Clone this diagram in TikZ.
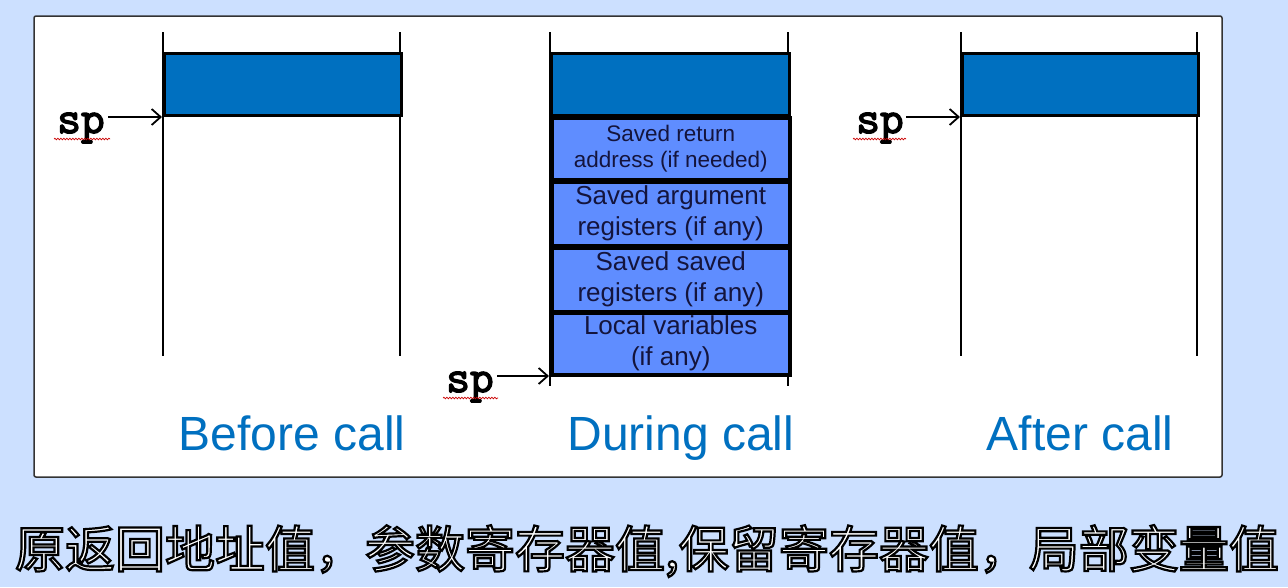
\documentclass[tikz,border=0pt]{standalone}
\usepackage{fontspec}
\setmainfont{Liberation Sans}
\newfontfamily\cjkfnt{Noto Sans CJK SC}
\usetikzlibrary{arrows.meta,decorations.pathmorphing}
\definecolor{bgblue}{RGB}{204,224,255}
\definecolor{darkblue}{RGB}{0,112,192}
\definecolor{lightblue}{RGB}{95,141,255}
\definecolor{navytext}{RGB}{20,20,60}
\definecolor{labelblue}{RGB}{0,112,192}
\newcommand{\outlinetext}[1]{\special{pdf:literal direct 0 0 0 RG 2 Tr 2.2 w}#1\special{pdf:literal direct 0 Tr}}
\newcommand{\heavytext}[1]{\special{pdf:literal direct 0 0 0 RG 2 Tr 1.4 w}#1\special{pdf:literal direct 0 Tr}}
\tikzset{
  stackline/.style={line width=2pt,black},
  topbox/.style={draw=black,line width=2.5pt,fill=darkblue,minimum height=62pt,inner sep=0pt,anchor=north west},
  framebox/.style={draw=black,line width=3.5pt,fill=lightblue,minimum height=62pt,inner sep=0pt,anchor=north west,align=center,text=navytext,font=\fontsize{26}{31}\selectfont},
  splabel/.style={font=\ttfamily\fontsize{46}{46}\selectfont,inner sep=0pt,anchor=base},
  sparrow/.style={line width=1.8pt,-{Straight Barb[length=9pt,width=16pt]}},
  squiggle/.style={red!80!black,line width=0.7pt,decorate,decoration={snake,amplitude=0.8pt,segment length=3pt}},
  caption/.style={font=\fontsize{48}{48}\selectfont,text=labelblue,inner sep=0pt,anchor=base},
  cjktext/.style={font=\cjkfnt\fontsize{50}{50}\selectfont,inner sep=0pt,text=white}
}
\begin{document}
\begin{tikzpicture}[x=1pt,y=-1pt]
\useasboundingbox (0,0) rectangle (1288,587);
\fill[bgblue] (0,0) rectangle (1288,587);
\draw[fill=white,draw=black!80,line width=1.5pt,rounded corners=2pt] (34,16) rectangle (1222,477);

% ---------- Before call ----------
\draw[stackline] (163,32) -- (163,356);
\draw[stackline] (400,32) -- (400,356);
\node[topbox,minimum width=237pt] (b1) at (163,52) {};
\node[splabel] (sp1) at (81,133) {\heavytext{sp}};
\coordinate (s1) at (108,117);
\coordinate (t1) at (162,117);
\draw[sparrow] (s1) -- (t1);
\draw[squiggle] (54,139) -- (110,139);
\node[caption] (c1) at (292,450) {Before call};

% ---------- During call ----------
\draw[stackline] (550,32) -- (550,386);
\draw[stackline] (788,32) -- (788,386);
\node[topbox,minimum width=238pt] (b2) at (550,52) {};
\node[framebox,minimum width=238pt,minimum height=62pt,font=\fontsize{22.5}{26}\selectfont] (f1) at (550,116) {Saved return\\address (if needed)};
\node[framebox,minimum width=238pt,minimum height=64pt] (f2) at (550,180) {Saved argument\\registers (if any)};
\node[framebox,minimum width=238pt,minimum height=64pt] (f3) at (550,246) {Saved saved\\registers (if any)};
\node[framebox,minimum width=238pt,minimum height=62pt] (f4) at (550,311) {Local variables\\(if any)};
\node[splabel] (sp2) at (470,392) {\heavytext{sp}};
\coordinate (s2) at (497,376);
\coordinate (t2) at (549,376);
\draw[sparrow] (s2) -- (t2);
\draw[squiggle] (443,398) -- (498,398);
\node[caption] (c2) at (681,450) {During call};

% ---------- After call ----------
\draw[stackline] (961,32) -- (961,356);
\draw[stackline] (1197,32) -- (1197,356);
\node[topbox,minimum width=236pt] (b3) at (961,52) {};
\node[splabel] (sp3) at (880,133) {\heavytext{sp}};
\coordinate (s3) at (906,117);
\coordinate (t3) at (960,117);
\draw[sparrow] (s3) -- (t3);
\draw[squiggle] (853,139) -- (906,139);
\node[caption] (c3) at (1080,450) {After call};

% ---------- Chinese caption ----------
\node[cjktext] (zh) at (647,551) {\outlinetext{原返回地址值，参数寄存器值,保留寄存器值，局部变量值}};
\end{tikzpicture}
\end{document}
